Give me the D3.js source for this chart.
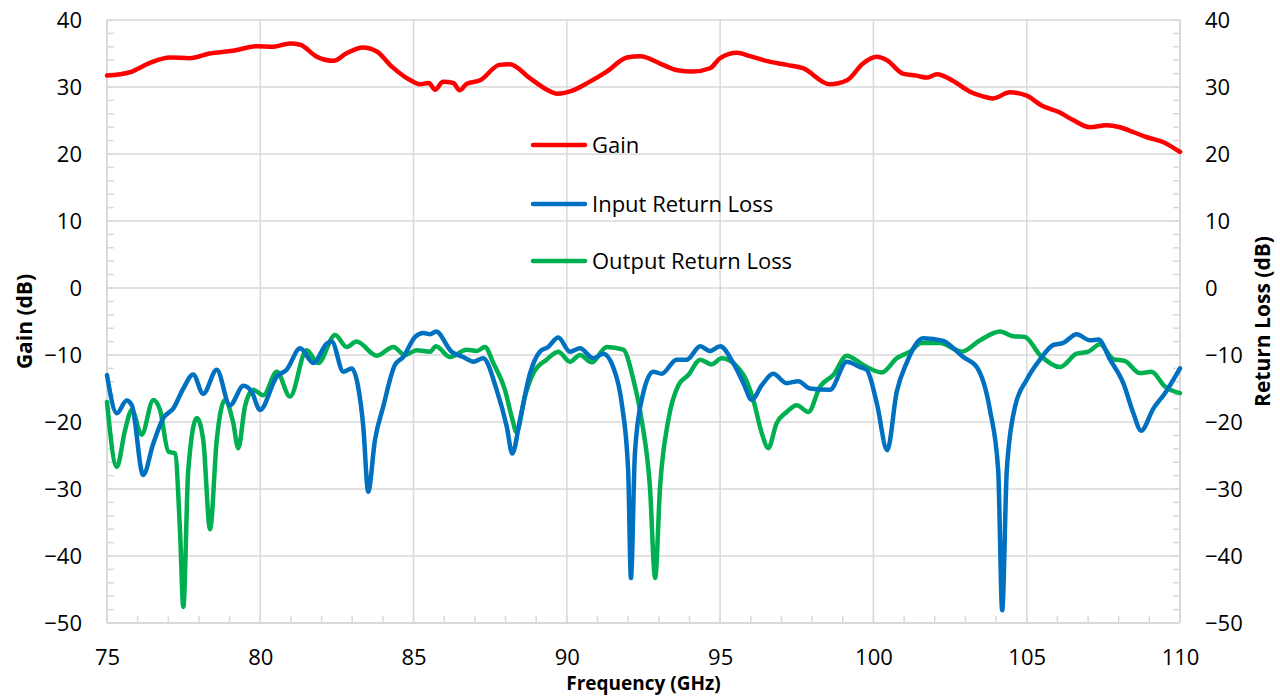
<!DOCTYPE html>
<html>
<head>
<meta charset="utf-8">
<script src="https://cdn.jsdelivr.net/npm/d3@7"></script>
<style>
body { margin: 0; background: #fff; }
text { font-family: "Open Sans", sans-serif; fill: #000; }
</style>
</head>
<body>
<svg id="chart" width="1280" height="696"></svg>
<script>
// Tick values
var freqTicks = [75, 80, 85, 90, 95, 100, 105, 110];
var dbTicks = [-50, -40, -30, -20, -10, 0, 10, 20, 30, 40];

// Gain (dB) vs frequency (GHz)
var gain = [
    [75.0, 31.7], [75.75, 32.2], [76.4, 33.6], [77.05, 34.4], [77.7, 34.3], [78.35, 35.0],
    [79.1, 35.4], [79.9, 36.1], [80.4, 36.0], [80.97, 36.5], [81.3, 36.3], [81.85, 34.5],
    [82.4, 33.9], [82.8, 35.0], [83.35, 35.9], [83.8, 35.3], [84.3, 33.0], [84.98, 30.8],
    [85.2, 30.4], [85.5, 30.6], [85.7, 29.6], [85.96, 30.8], [86.3, 30.6], [86.5, 29.5],
    [86.74, 30.5], [87.17, 31.0], [87.8, 33.3], [88.14, 33.4], [88.8, 31.3], [89.35, 29.6],
    [89.68, 29.0], [90.2, 29.5], [90.75, 30.8], [91.3, 32.3], [91.96, 34.4], [92.4, 34.6],
    [93.04, 33.5], [93.6, 32.5], [94.1, 32.3], [94.67, 32.8], [95.0, 34.3], [95.55, 35.1],
    [95.97, 34.6], [96.5, 33.9], [97.18, 33.3], [97.7, 32.8], [98.58, 30.4], [99.14, 31.0],
    [99.66, 33.5], [100.1, 34.5], [100.44, 34.0], [100.96, 32.0], [101.4, 31.7], [101.74, 31.4],
    [102.07, 31.9], [102.6, 30.9], [103.15, 29.3], [103.57, 28.6], [103.9, 28.3], [104.45, 29.2],
    [105.0, 28.7], [105.5, 27.2], [106.08, 26.2], [106.5, 25.1], [107.06, 24.0], [107.6, 24.3],
    [108.04, 24.0], [108.46, 23.3], [108.92, 22.5], [109.44, 21.8], [110.0, 20.3]
];

// Input return loss (dB)
var inputRL = [
    [75.0, -13.0], [75.32, -18.7], [75.64, -16.8], [75.81, -17.5], [76.18, -27.9], [76.51, -23.2],
    [76.84, -19.4], [77.16, -18.0], [77.49, -15.0], [77.81, -12.9], [78.14, -15.8], [78.58, -12.2],
    [79.01, -17.5], [79.45, -14.6], [79.72, -15.5], [79.99, -18.2], [80.54, -13.2], [80.86, -12.2],
    [81.3, -9.0], [81.73, -11.2], [82.17, -8.3], [82.33, -8.0], [82.71, -12.5], [82.98, -12.0],
    [83.19, -14.7], [83.36, -20.7], [83.52, -30.4], [83.74, -22.7], [84.01, -17.7], [84.39, -11.5],
    [84.66, -10.3], [85.05, -7.3], [85.32, -6.7], [85.54, -6.9], [85.73, -6.5], [86.24, -9.5],
    [86.62, -10.3], [86.95, -11.0], [87.27, -10.5], [87.71, -15.2], [88.04, -20.7], [88.22, -24.7],
    [88.47, -19.7], [88.8, -12.7], [89.12, -9.5], [89.39, -8.8], [89.72, -7.4], [90.1, -9.5],
    [90.43, -9.0], [90.86, -10.5], [91.19, -9.8], [91.51, -11.8], [91.79, -17.2], [92.0, -27.2],
    [92.09, -43.3], [92.22, -24.7], [92.44, -16.7], [92.82, -12.5], [93.09, -12.8], [93.58, -10.7],
    [93.91, -10.7], [94.35, -8.7], [94.67, -9.4], [95.0, -8.7], [95.43, -11.2], [95.76, -14.2],
    [96.03, -16.7], [96.36, -14.5], [96.73, -12.8], [97.17, -14.2], [97.55, -13.9], [97.93, -15.0],
    [98.58, -15.2], [99.13, -11.0], [99.56, -11.8], [99.78, -12.2], [100.11, -17.2], [100.45, -24.2],
    [100.76, -15.5], [101.08, -11.2], [101.63, -7.5], [102.28, -7.9], [102.61, -9.0], [102.93, -10.3],
    [103.37, -11.8], [103.8, -18.2], [104.07, -27.2], [104.2, -48.1], [104.35, -27.2], [104.62, -17.7],
    [105.0, -13.7], [105.43, -10.7], [105.87, -8.5], [106.19, -8.2], [106.63, -6.9], [107.06, -7.8],
    [107.34, -7.7], [107.72, -10.7], [108.15, -14.2], [108.48, -18.7], [108.73, -21.3], [109.13, -18.0],
    [109.51, -15.7], [110.0, -12.0]
];

// Output return loss (dB)
var outputRL = [
    [75.0, -17.0], [75.32, -26.7], [75.59, -21.2], [75.81, -18.2], [76.13, -21.9], [76.51, -16.7],
    [76.73, -18.2], [77.0, -24.4], [77.22, -24.7], [77.38, -36.1], [77.49, -47.6], [77.65, -27.2],
    [77.93, -19.4], [78.14, -22.7], [78.36, -36.0], [78.58, -22.7], [78.85, -16.7], [79.12, -20.2],
    [79.28, -23.9], [79.5, -17.7], [79.77, -15.2], [80.1, -16.0], [80.54, -12.5], [80.97, -16.2],
    [81.51, -9.3], [81.89, -11.2], [82.44, -7.0], [82.82, -8.8], [83.14, -8.0], [83.8, -10.1],
    [84.34, -8.8], [84.72, -10.0], [85.1, -9.3], [85.54, -9.5], [85.73, -8.7], [86.19, -10.3],
    [86.73, -9.2], [87.06, -9.4], [87.33, -8.8], [87.6, -11.2], [87.98, -15.2], [88.2, -19.2],
    [88.36, -21.5], [88.63, -16.2], [88.91, -12.7], [89.34, -10.7], [89.72, -9.5], [90.1, -11.0],
    [90.43, -10.0], [90.81, -11.1], [91.3, -8.8], [91.84, -9.2], [92.17, -13.7], [92.44, -19.7],
    [92.71, -29.7], [92.88, -43.3], [93.04, -29.7], [93.31, -19.7], [93.64, -14.5], [93.96, -13.0],
    [94.35, -10.7], [94.72, -11.4], [95.05, -10.5], [95.76, -13.0], [96.08, -16.7], [96.36, -21.7],
    [96.57, -23.9], [96.84, -20.2], [97.17, -18.5], [97.5, -17.5], [97.88, -18.5], [98.26, -14.7],
    [98.69, -13.0], [99.13, -10.1], [99.67, -11.5], [100.27, -12.6], [100.76, -10.5], [101.19, -9.5],
    [101.57, -8.2], [102.17, -8.2], [102.88, -9.5], [103.48, -7.8], [104.13, -6.5], [104.56, -7.2],
    [104.94, -7.3], [105.43, -10.0], [106.09, -11.8], [106.63, -9.8], [107.01, -9.5], [107.39, -8.4],
    [107.82, -10.6], [108.21, -10.9], [108.69, -12.7], [109.07, -12.5], [109.51, -14.7], [110.0, -15.7]
];

var seriesNames = ["Gain", "Input Return Loss", "Output Return Loss"];
var seriesColors = ["#ff0000", "#0070c0", "#00b050"];

// Layout
var margin = {top: 20, right: 100, bottom: 73, left: 107};
var width = 1280, height = 696;
var plotW = width - margin.left - margin.right;
var plotH = height - margin.top - margin.bottom;

var svg = d3.select("#chart");
var g = svg.append("g").attr("transform", "translate(" + margin.left + "," + margin.top + ")");

var x = d3.scaleLinear().domain([75, 110]).range([0, plotW]);
var y = d3.scaleLinear().domain([-50, 40]).range([plotH, 0]);

var gridColor = "#d9d9d9";

// Gridlines
g.append("g").selectAll("line").data(freqTicks).enter().append("line")
    .attr("x1", function(d) { return x(d); }).attr("x2", function(d) { return x(d); })
    .attr("y1", 0).attr("y2", plotH)
    .attr("stroke", gridColor).attr("stroke-width", 1.5);

g.append("g").selectAll("line").data(dbTicks).enter().append("line")
    .attr("x1", 0).attr("x2", plotW)
    .attr("y1", function(d) { return y(d); }).attr("y2", function(d) { return y(d); })
    .attr("stroke", gridColor).attr("stroke-width", 1.5);

// Minor ticks (every 2 dB, every 1 GHz)
var minorDb = d3.range(-50, 41, 2);
var minorF = d3.range(75, 111, 1);

g.append("g").selectAll("line").data(minorDb).enter().append("line")
    .attr("x1", 0).attr("x2", 7)
    .attr("y1", function(d) { return y(d); }).attr("y2", function(d) { return y(d); })
    .attr("stroke", gridColor).attr("stroke-width", 1.5);

g.append("g").selectAll("line").data(minorDb).enter().append("line")
    .attr("x1", plotW - 7).attr("x2", plotW)
    .attr("y1", function(d) { return y(d); }).attr("y2", function(d) { return y(d); })
    .attr("stroke", gridColor).attr("stroke-width", 1.5);

g.append("g").selectAll("line").data(minorF).enter().append("line")
    .attr("x1", function(d) { return x(d); }).attr("x2", function(d) { return x(d); })
    .attr("y1", plotH - 7).attr("y2", plotH)
    .attr("stroke", gridColor).attr("stroke-width", 1.5);

// Axis frame lines
g.append("line").attr("x1", 0).attr("x2", 0).attr("y1", 0).attr("y2", plotH)
    .attr("stroke", gridColor).attr("stroke-width", 2);
g.append("line").attr("x1", plotW).attr("x2", plotW).attr("y1", 0).attr("y2", plotH)
    .attr("stroke", gridColor).attr("stroke-width", 2);
g.append("line").attr("x1", 0).attr("x2", plotW).attr("y1", plotH).attr("y2", plotH)
    .attr("stroke", gridColor).attr("stroke-width", 2);

// Axes (labels only)
var leftAxis = g.append("g")
    .call(d3.axisLeft(y).tickValues(dbTicks).tickSize(0).tickPadding(25));
var rightAxis = g.append("g").attr("transform", "translate(" + plotW + ",0)")
    .call(d3.axisRight(y).tickValues(dbTicks).tickSize(0).tickPadding(25));
var bottomAxis = g.append("g").attr("transform", "translate(0," + plotH + ")")
    .call(d3.axisBottom(x).tickValues(freqTicks).tickSize(0).tickPadding(26));

[leftAxis, rightAxis, bottomAxis].forEach(function(a) {
    a.select(".domain").remove();
    a.selectAll("text").style("font-size", "22px").style("font-family", null).attr("fill", "#000");
});

// Axis titles
svg.append("text")
    .attr("transform", "translate(32," + (margin.top + plotH / 2) + ") rotate(-90)")
    .attr("text-anchor", "middle")
    .style("font-size", "21px").style("font-weight", "bold")
    .text("Gain (dB)");

svg.append("text")
    .attr("transform", "translate(1270," + (margin.top + plotH / 2) + ") rotate(-90)")
    .attr("text-anchor", "middle")
    .style("font-size", "21px").style("font-weight", "bold")
    .text("Return Loss (dB)");

svg.append("text")
    .attr("x", margin.left + plotW / 2).attr("y", 690)
    .attr("text-anchor", "middle")
    .style("font-size", "19px").style("font-weight", "bold")
    .text("Frequency (GHz)");

// Lines
var line = d3.line()
    .x(function(d) { return x(d[0]); })
    .y(function(d) { return y(d[1]); })
    .curve(d3.curveMonotoneX);

[gain, inputRL, outputRL].reverse().forEach(function(data, i) {
    var idx = 2 - i;
    g.append("path")
        .datum(data)
        .attr("fill", "none")
        .attr("stroke", seriesColors[idx])
        .attr("stroke-width", 4.5)
        .attr("stroke-linejoin", "round")
        .attr("stroke-linecap", "round")
        .attr("d", line);
});

// Legend
var legendY = [145, 204, 261];
var legend = svg.append("g").selectAll("g").data(seriesNames).enter().append("g")
    .attr("transform", function(d, i) { return "translate(533," + legendY[i] + ")"; });

legend.append("line")
    .attr("x1", 0).attr("x2", 52)
    .attr("stroke", function(d, i) { return seriesColors[i]; })
    .attr("stroke-width", 4.5)
    .attr("stroke-linecap", "round");

legend.append("text")
    .attr("x", 59).attr("dy", "0.35em")
    .style("font-size", "22px")
    .text(function(d) { return d; });
</script>
</body>
</html>
